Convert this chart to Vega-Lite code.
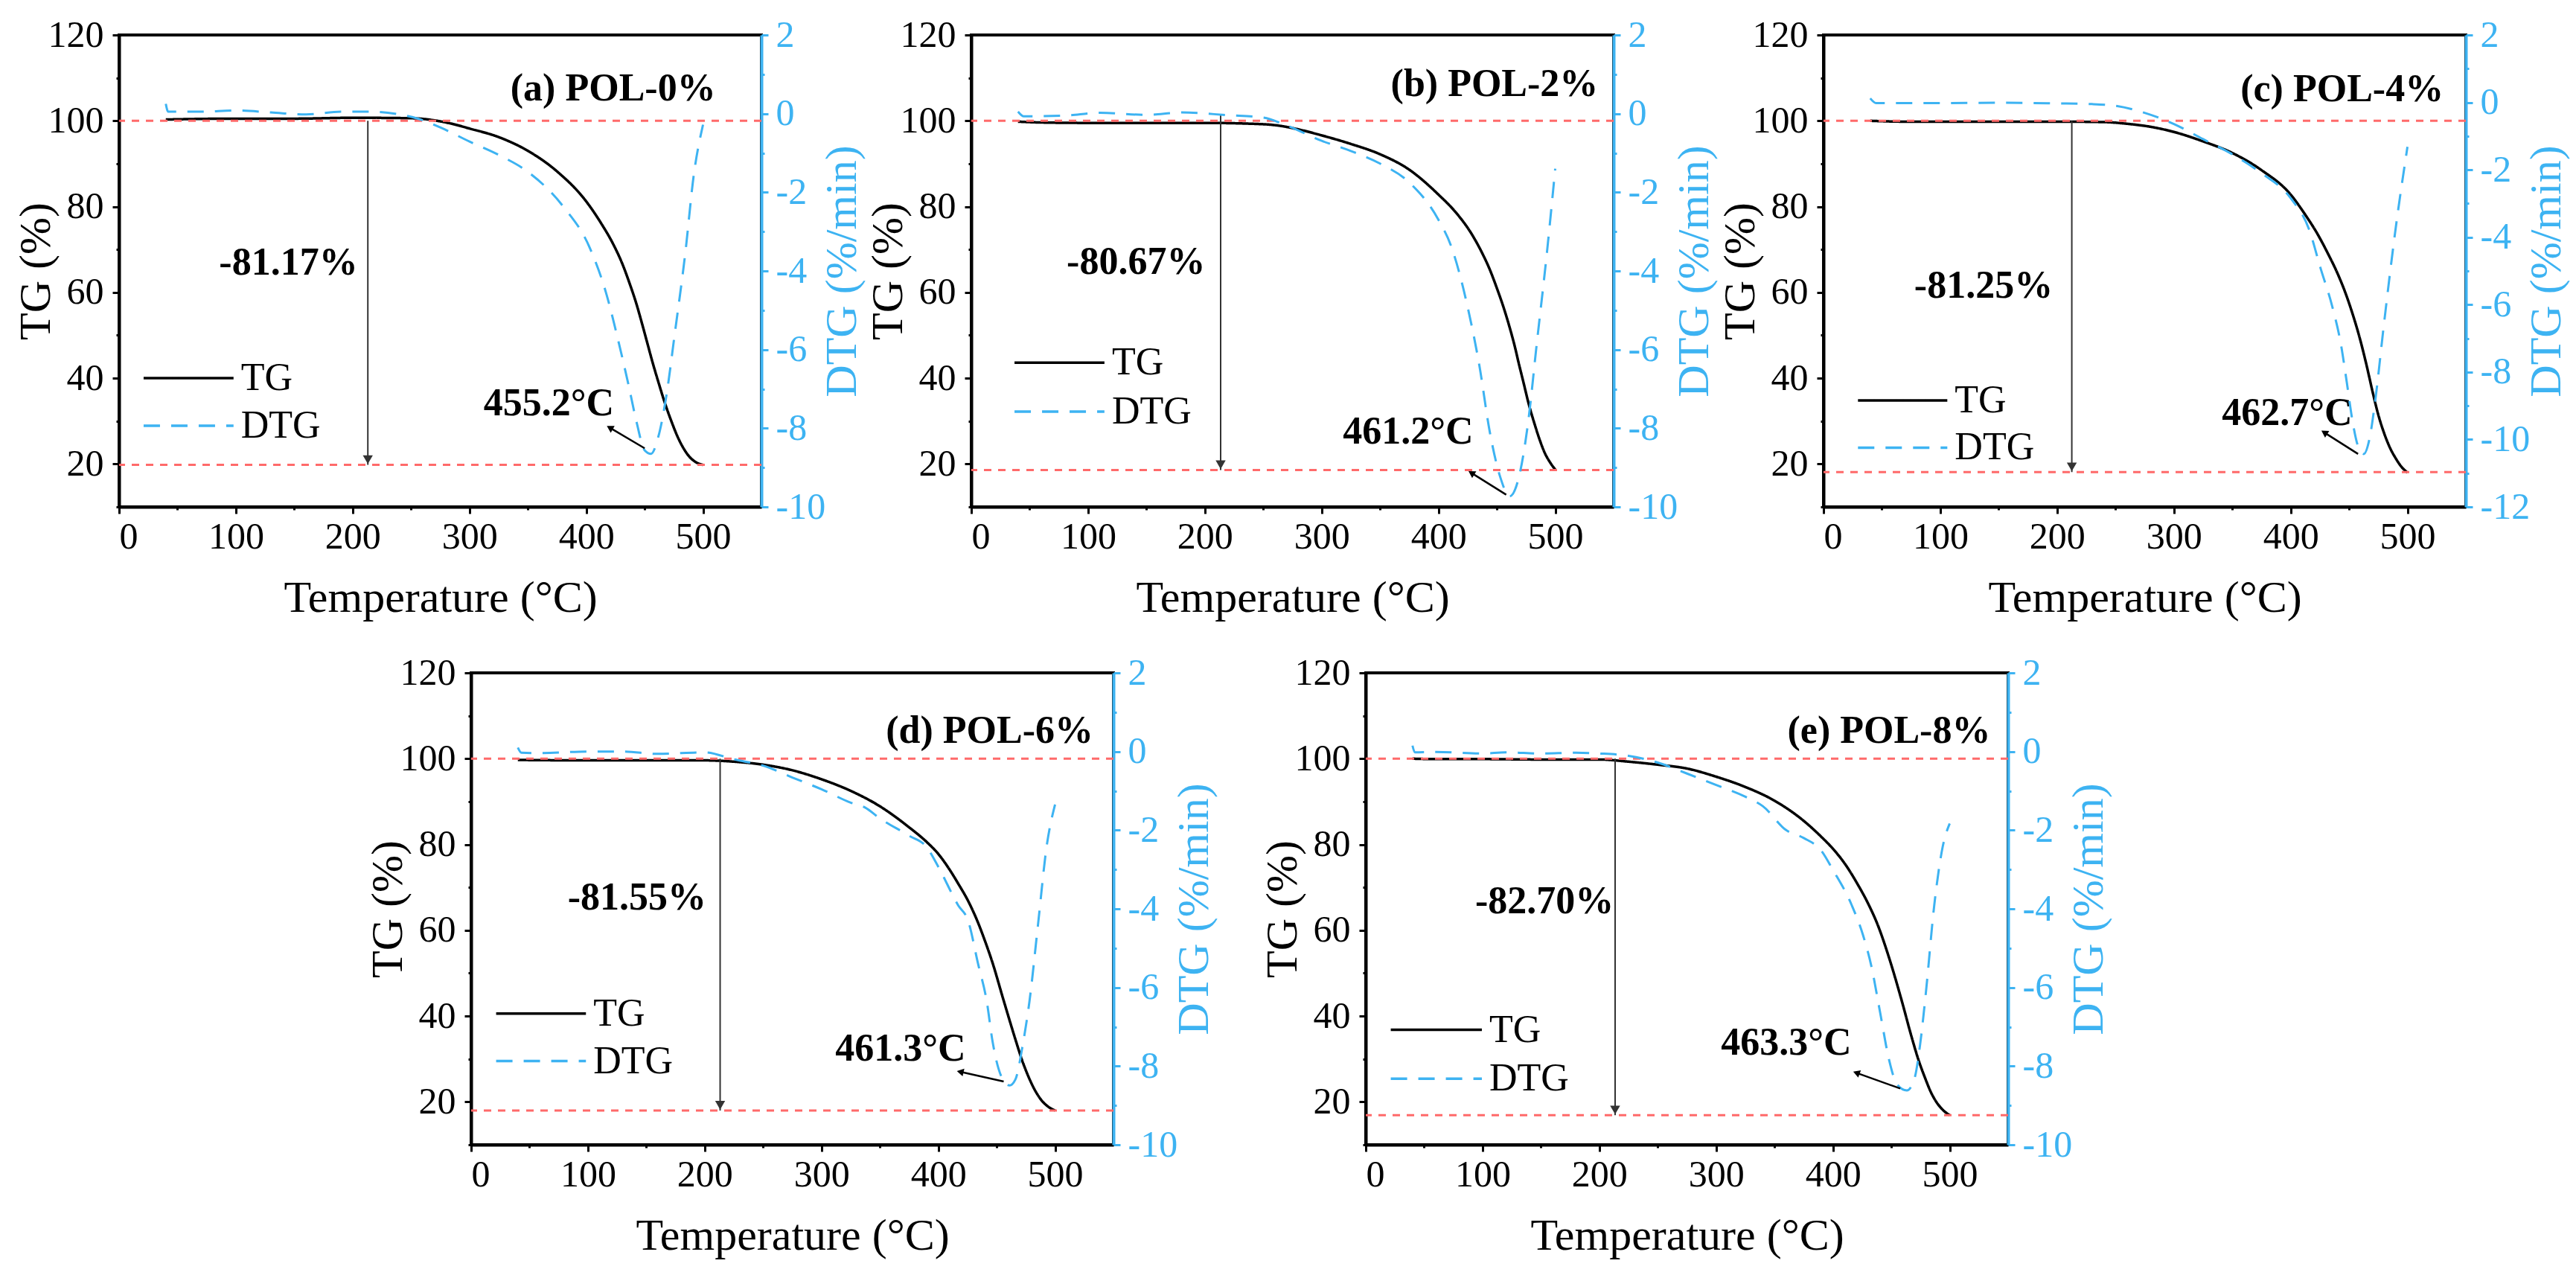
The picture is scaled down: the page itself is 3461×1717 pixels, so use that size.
{
  "$schema": "https://vega.github.io/schema/vega-lite/v6.json",
  "padding": {"left": 16, "top": 20, "right": 5, "bottom": 5},
  "config": {
    "font": "Liberation Serif, Times New Roman, DejaVu Serif, serif",
    "view": {"stroke": "black", "strokeWidth": 4},
    "text": {"font": "Liberation Serif, Times New Roman, DejaVu Serif, serif"},
    "axis": {
      "grid": false, "labelFont": "Liberation Serif, Times New Roman, DejaVu Serif, serif", "labelFontSize": 50, "labelColor": "black",
      "titleFont": "Liberation Serif, Times New Roman, DejaVu Serif, serif", "titleFontSize": 60, "titleFontWeight": "normal", "titleColor": "black",
      "domainColor": "black", "domainWidth": 4, "tickColor": "black", "tickWidth": 3
    },
    "axisBottom": {"labelPadding": 6, "titlePadding": 28},
    "axisLeft": {"labelPadding": 12, "titlePadding": -15},
    "axisRight": {
      "labelPadding": 10, "titlePadding": -6, "titleAngle": 270, "titleBaseline": "top",
      "domainColor": "#3db3f2", "tickColor": "#3db3f2", "labelColor": "#3db3f2", "titleColor": "#3db3f2"
    }
  },
  "datasets": {
    "curves": [
      {"p":"a","s":"TG","t":40,"v":100.3},{"p":"a","s":"TG","t":100,"v":100.5},{"p":"a","s":"TG","t":150,"v":100.5},{"p":"a","s":"TG","t":200,"v":100.7},{"p":"a","s":"TG","t":250,"v":100.6},{"p":"a","s":"TG","t":270,"v":100.1},{"p":"a","s":"TG","t":285,"v":99.3},{"p":"a","s":"TG","t":300,"v":98.2},{"p":"a","s":"TG","t":325,"v":96.2},{"p":"a","s":"TG","t":350,"v":93.0},{"p":"a","s":"TG","t":375,"v":88.2},{"p":"a","s":"TG","t":400,"v":81.2},{"p":"a","s":"TG","t":413,"v":76.0},{"p":"a","s":"TG","t":423,"v":71.3},{"p":"a","s":"TG","t":431,"v":66.6},{"p":"a","s":"TG","t":437,"v":62.2},{"p":"a","s":"TG","t":443,"v":57.3},{"p":"a","s":"TG","t":448,"v":52.5},{"p":"a","s":"TG","t":452,"v":48.5},{"p":"a","s":"TG","t":457,"v":43.5},{"p":"a","s":"TG","t":462,"v":38.9},{"p":"a","s":"TG","t":467,"v":34.5},{"p":"a","s":"TG","t":473,"v":29.9},{"p":"a","s":"TG","t":478,"v":26.5},{"p":"a","s":"TG","t":483,"v":23.8},{"p":"a","s":"TG","t":488,"v":21.8},{"p":"a","s":"TG","t":494,"v":20.4},{"p":"a","s":"TG","t":500,"v":19.8},
      {"p":"a","s":"DTG","t":40,"v":0.25},{"p":"a","s":"DTG","t":42,"v":0.05},{"p":"a","s":"DTG","t":70,"v":0.05},{"p":"a","s":"DTG","t":100,"v":0.08},{"p":"a","s":"DTG","t":130,"v":0.03},{"p":"a","s":"DTG","t":160,"v":-0.02},{"p":"a","s":"DTG","t":190,"v":0.05},{"p":"a","s":"DTG","t":215,"v":0.05},{"p":"a","s":"DTG","t":240,"v":-0.02},{"p":"a","s":"DTG","t":255,"v":-0.12},{"p":"a","s":"DTG","t":275,"v":-0.35},{"p":"a","s":"DTG","t":300,"v":-0.71},{"p":"a","s":"DTG","t":325,"v":-1.05},{"p":"a","s":"DTG","t":350,"v":-1.48},{"p":"a","s":"DTG","t":380,"v":-2.35},{"p":"a","s":"DTG","t":403,"v":-3.41},{"p":"a","s":"DTG","t":417,"v":-4.56},{"p":"a","s":"DTG","t":427,"v":-5.72},{"p":"a","s":"DTG","t":436,"v":-6.87},{"p":"a","s":"DTG","t":443,"v":-7.83},{"p":"a","s":"DTG","t":450,"v":-8.56},{"p":"a","s":"DTG","t":455.5,"v":-8.65},{"p":"a","s":"DTG","t":461.7,"v":-8.22},{"p":"a","s":"DTG","t":468.7,"v":-7.16},{"p":"a","s":"DTG","t":475.7,"v":-5.62},{"p":"a","s":"DTG","t":485,"v":-3.5},{"p":"a","s":"DTG","t":492,"v":-1.58},{"p":"a","s":"DTG","t":500,"v":-0.28},
      {"p":"b","s":"TG","t":40,"v":99.8},{"p":"b","s":"TG","t":60,"v":99.6},{"p":"b","s":"TG","t":100,"v":99.5},{"p":"b","s":"TG","t":150,"v":99.5},{"p":"b","s":"TG","t":200,"v":99.5},{"p":"b","s":"TG","t":250,"v":99.2},{"p":"b","s":"TG","t":265,"v":98.8},{"p":"b","s":"TG","t":280,"v":98.0},{"p":"b","s":"TG","t":300,"v":96.6},{"p":"b","s":"TG","t":325,"v":94.6},{"p":"b","s":"TG","t":350,"v":92.2},{"p":"b","s":"TG","t":375,"v":88.6},{"p":"b","s":"TG","t":400,"v":82.8},{"p":"b","s":"TG","t":415,"v":78.6},{"p":"b","s":"TG","t":428,"v":73.8},{"p":"b","s":"TG","t":437,"v":69.4},{"p":"b","s":"TG","t":444,"v":65.3},{"p":"b","s":"TG","t":450,"v":61.0},{"p":"b","s":"TG","t":456,"v":56.3},{"p":"b","s":"TG","t":461,"v":51.8},{"p":"b","s":"TG","t":465,"v":47.8},{"p":"b","s":"TG","t":469,"v":43.2},{"p":"b","s":"TG","t":473,"v":38.8},{"p":"b","s":"TG","t":477,"v":34.3},{"p":"b","s":"TG","t":482,"v":29.6},{"p":"b","s":"TG","t":487,"v":25.4},{"p":"b","s":"TG","t":491,"v":22.6},{"p":"b","s":"TG","t":496,"v":20.2},{"p":"b","s":"TG","t":500,"v":18.7},
      {"p":"b","s":"DTG","t":40,"v":0.05},{"p":"b","s":"DTG","t":45,"v":-0.07},{"p":"b","s":"DTG","t":80,"v":-0.05},{"p":"b","s":"DTG","t":110,"v":0.02},{"p":"b","s":"DTG","t":150,"v":-0.03},{"p":"b","s":"DTG","t":180,"v":0.03},{"p":"b","s":"DTG","t":220,"v":-0.04},{"p":"b","s":"DTG","t":250,"v":-0.1},{"p":"b","s":"DTG","t":270,"v":-0.3},{"p":"b","s":"DTG","t":300,"v":-0.69},{"p":"b","s":"DTG","t":325,"v":-0.95},{"p":"b","s":"DTG","t":350,"v":-1.27},{"p":"b","s":"DTG","t":375,"v":-1.75},{"p":"b","s":"DTG","t":400,"v":-2.7},{"p":"b","s":"DTG","t":411,"v":-3.38},{"p":"b","s":"DTG","t":425,"v":-4.92},{"p":"b","s":"DTG","t":435,"v":-6.4},{"p":"b","s":"DTG","t":444,"v":-8.1},{"p":"b","s":"DTG","t":453,"v":-9.25},{"p":"b","s":"DTG","t":461,"v":-9.73},{"p":"b","s":"DTG","t":470,"v":-9.1},{"p":"b","s":"DTG","t":477,"v":-7.8},{"p":"b","s":"DTG","t":484,"v":-5.9},{"p":"b","s":"DTG","t":493,"v":-3.5},{"p":"b","s":"DTG","t":500,"v":-1.4},
      {"p":"c","s":"TG","t":40,"v":100.0},{"p":"c","s":"TG","t":70,"v":99.8},{"p":"c","s":"TG","t":100,"v":99.8},{"p":"c","s":"TG","t":150,"v":99.8},{"p":"c","s":"TG","t":200,"v":99.8},{"p":"c","s":"TG","t":240,"v":99.7},{"p":"c","s":"TG","t":260,"v":99.3},{"p":"c","s":"TG","t":280,"v":98.6},{"p":"c","s":"TG","t":300,"v":97.4},{"p":"c","s":"TG","t":325,"v":95.2},{"p":"c","s":"TG","t":350,"v":92.5},{"p":"c","s":"TG","t":375,"v":88.5},{"p":"c","s":"TG","t":400,"v":82.8},{"p":"c","s":"TG","t":412,"v":78.3},{"p":"c","s":"TG","t":423,"v":73.6},{"p":"c","s":"TG","t":432,"v":69.0},{"p":"c","s":"TG","t":440,"v":64.5},{"p":"c","s":"TG","t":447,"v":59.8},{"p":"c","s":"TG","t":453,"v":55.0},{"p":"c","s":"TG","t":459,"v":49.5},{"p":"c","s":"TG","t":465,"v":43.0},{"p":"c","s":"TG","t":470,"v":37.0},{"p":"c","s":"TG","t":475,"v":31.5},{"p":"c","s":"TG","t":480,"v":27.2},{"p":"c","s":"TG","t":485,"v":23.8},{"p":"c","s":"TG","t":490,"v":21.3},{"p":"c","s":"TG","t":495,"v":19.3},{"p":"c","s":"TG","t":500,"v":18.0},
      {"p":"c","s":"DTG","t":40,"v":0.12},{"p":"c","s":"DTG","t":45,"v":-0.02},{"p":"c","s":"DTG","t":100,"v":-0.02},{"p":"c","s":"DTG","t":150,"v":-0.01},{"p":"c","s":"DTG","t":200,"v":-0.03},{"p":"c","s":"DTG","t":230,"v":-0.05},{"p":"c","s":"DTG","t":250,"v":-0.1},{"p":"c","s":"DTG","t":275,"v":-0.31},{"p":"c","s":"DTG","t":300,"v":-0.64},{"p":"c","s":"DTG","t":325,"v":-1.09},{"p":"c","s":"DTG","t":350,"v":-1.54},{"p":"c","s":"DTG","t":375,"v":-2.1},{"p":"c","s":"DTG","t":400,"v":-2.84},{"p":"c","s":"DTG","t":416,"v":-3.79},{"p":"c","s":"DTG","t":425.6,"v":-4.92},{"p":"c","s":"DTG","t":435.5,"v":-6.04},{"p":"c","s":"DTG","t":443,"v":-7.17},{"p":"c","s":"DTG","t":448,"v":-8.29},{"p":"c","s":"DTG","t":452.8,"v":-9.42},{"p":"c","s":"DTG","t":457.7,"v":-10.2},{"p":"c","s":"DTG","t":462.6,"v":-10.43},{"p":"c","s":"DTG","t":467.5,"v":-9.98},{"p":"c","s":"DTG","t":472.4,"v":-8.85},{"p":"c","s":"DTG","t":479.8,"v":-6.6},{"p":"c","s":"DTG","t":489.7,"v":-3.79},{"p":"c","s":"DTG","t":500,"v":-1.32},
      {"p":"d","s":"TG","t":40,"v":99.7},{"p":"d","s":"TG","t":100,"v":99.6},{"p":"d","s":"TG","t":150,"v":99.6},{"p":"d","s":"TG","t":200,"v":99.6},{"p":"d","s":"TG","t":225,"v":99.3},{"p":"d","s":"TG","t":250,"v":98.6},{"p":"d","s":"TG","t":275,"v":97.3},{"p":"d","s":"TG","t":300,"v":95.2},{"p":"d","s":"TG","t":325,"v":92.5},{"p":"d","s":"TG","t":350,"v":88.9},{"p":"d","s":"TG","t":375,"v":84.0},{"p":"d","s":"TG","t":390,"v":80.6},{"p":"d","s":"TG","t":400,"v":77.8},{"p":"d","s":"TG","t":410,"v":74.0},{"p":"d","s":"TG","t":417,"v":70.9},{"p":"d","s":"TG","t":426,"v":66.6},{"p":"d","s":"TG","t":434,"v":61.8},{"p":"d","s":"TG","t":440,"v":57.5},{"p":"d","s":"TG","t":446,"v":52.8},{"p":"d","s":"TG","t":456,"v":43.6},{"p":"d","s":"TG","t":466,"v":34.6},{"p":"d","s":"TG","t":472,"v":29.5},{"p":"d","s":"TG","t":478,"v":25.4},{"p":"d","s":"TG","t":483,"v":22.6},{"p":"d","s":"TG","t":488,"v":20.5},{"p":"d","s":"TG","t":495,"v":18.7},{"p":"d","s":"TG","t":500,"v":18.0},
      {"p":"d","s":"DTG","t":40,"v":0.1},{"p":"d","s":"DTG","t":43,"v":-0.03},{"p":"d","s":"DTG","t":60,"v":-0.04},{"p":"d","s":"DTG","t":100,"v":0.0},{"p":"d","s":"DTG","t":130,"v":0.0},{"p":"d","s":"DTG","t":160,"v":-0.06},{"p":"d","s":"DTG","t":200,"v":-0.02},{"p":"d","s":"DTG","t":225,"v":-0.2},{"p":"d","s":"DTG","t":250,"v":-0.36},{"p":"d","s":"DTG","t":275,"v":-0.66},{"p":"d","s":"DTG","t":300,"v":-0.96},{"p":"d","s":"DTG","t":325,"v":-1.3},{"p":"d","s":"DTG","t":337,"v":-1.42},{"p":"d","s":"DTG","t":350,"v":-1.7},{"p":"d","s":"DTG","t":375,"v":-2.14},{"p":"d","s":"DTG","t":390,"v":-2.43},{"p":"d","s":"DTG","t":400,"v":-2.93},{"p":"d","s":"DTG","t":417,"v":-3.91},{"p":"d","s":"DTG","t":425.5,"v":-4.3},{"p":"d","s":"DTG","t":434,"v":-5.39},{"p":"d","s":"DTG","t":441.6,"v":-6.37},{"p":"d","s":"DTG","t":446.4,"v":-7.36},{"p":"d","s":"DTG","t":453.8,"v":-8.25},{"p":"d","s":"DTG","t":461,"v":-8.49},{"p":"d","s":"DTG","t":466,"v":-8.34},{"p":"d","s":"DTG","t":472.3,"v":-7.46},{"p":"d","s":"DTG","t":478,"v":-6.37},{"p":"d","s":"DTG","t":485.4,"v":-4.4},{"p":"d","s":"DTG","t":492.7,"v":-2.43},{"p":"d","s":"DTG","t":500,"v":-1.35},
      {"p":"e","s":"TG","t":40,"v":100.0},{"p":"e","s":"TG","t":60,"v":99.9},{"p":"e","s":"TG","t":100,"v":99.9},{"p":"e","s":"TG","t":150,"v":99.8},{"p":"e","s":"TG","t":200,"v":99.8},{"p":"e","s":"TG","t":225,"v":99.3},{"p":"e","s":"TG","t":250,"v":98.6},{"p":"e","s":"TG","t":275,"v":97.7},{"p":"e","s":"TG","t":300,"v":95.8},{"p":"e","s":"TG","t":325,"v":93.4},{"p":"e","s":"TG","t":350,"v":90.2},{"p":"e","s":"TG","t":375,"v":85.5},{"p":"e","s":"TG","t":390,"v":81.8},{"p":"e","s":"TG","t":400,"v":79.0},{"p":"e","s":"TG","t":411,"v":75.2},{"p":"e","s":"TG","t":421,"v":70.8},{"p":"e","s":"TG","t":430,"v":66.3},{"p":"e","s":"TG","t":438,"v":61.5},{"p":"e","s":"TG","t":449,"v":52.8},{"p":"e","s":"TG","t":459,"v":43.5},{"p":"e","s":"TG","t":467,"v":35.5},{"p":"e","s":"TG","t":473,"v":30.0},{"p":"e","s":"TG","t":479,"v":25.5},{"p":"e","s":"TG","t":484,"v":22.2},{"p":"e","s":"TG","t":489,"v":19.8},{"p":"e","s":"TG","t":495,"v":17.9},{"p":"e","s":"TG","t":500,"v":16.9},
      {"p":"e","s":"DTG","t":40,"v":0.15},{"p":"e","s":"DTG","t":42,"v":-0.02},{"p":"e","s":"DTG","t":60,"v":-0.01},{"p":"e","s":"DTG","t":100,"v":-0.05},{"p":"e","s":"DTG","t":120,"v":-0.02},{"p":"e","s":"DTG","t":150,"v":-0.05},{"p":"e","s":"DTG","t":180,"v":-0.03},{"p":"e","s":"DTG","t":200,"v":-0.05},{"p":"e","s":"DTG","t":225,"v":-0.11},{"p":"e","s":"DTG","t":250,"v":-0.28},{"p":"e","s":"DTG","t":275,"v":-0.56},{"p":"e","s":"DTG","t":300,"v":-0.85},{"p":"e","s":"DTG","t":325,"v":-1.15},{"p":"e","s":"DTG","t":340,"v":-1.39},{"p":"e","s":"DTG","t":360,"v":-2.0},{"p":"e","s":"DTG","t":375,"v":-2.2},{"p":"e","s":"DTG","t":390,"v":-2.52},{"p":"e","s":"DTG","t":400,"v":-3.01},{"p":"e","s":"DTG","t":416,"v":-3.9},{"p":"e","s":"DTG","t":426,"v":-4.69},{"p":"e","s":"DTG","t":433,"v":-5.47},{"p":"e","s":"DTG","t":440.5,"v":-6.65},{"p":"e","s":"DTG","t":448,"v":-7.83},{"p":"e","s":"DTG","t":455,"v":-8.47},{"p":"e","s":"DTG","t":463.3,"v":-8.62},{"p":"e","s":"DTG","t":469.8,"v":-8.32},{"p":"e","s":"DTG","t":474.7,"v":-7.44},{"p":"e","s":"DTG","t":479.5,"v":-6.16},{"p":"e","s":"DTG","t":486.8,"v":-3.9},{"p":"e","s":"DTG","t":494,"v":-2.42},{"p":"e","s":"DTG","t":500,"v":-1.83}
    ],
    "levels": [
      {"p":"a","v":100},{"p":"a","v":19.8},{"p":"b","v":100},{"p":"b","v":18.6},{"p":"c","v":100},{"p":"c","v":18.1},{"p":"d","v":100},{"p":"d","v":18.0},{"p":"e","v":100},{"p":"e","v":16.9}
    ],
    "drops": [
      {"p":"a","t":213,"top":100,"v":19.8},{"p":"b","t":213.5,"top":101.5,"v":18.6},{"p":"c","t":212.6,"top":100,"v":18.1},{"p":"d","t":213.2,"top":100,"v":18.0},{"p":"e","t":213.5,"top":100,"v":16.9}
    ],
    "labels": [
      {"p":"a","txt":"(a) POL-0%","t":423,"v":107.5},{"p":"a","txt":"-81.17%","t":145,"v":66.9},{"p":"a","txt":"455.2°C","t":368,"v":34.1},
      {"p":"b","txt":"(b) POL-2%","t":448,"v":108.5},{"p":"b","txt":"-80.67%","t":141,"v":67},{"p":"b","txt":"461.2°C","t":374,"v":27.6},
      {"p":"c","txt":"(c) POL-4%","t":444,"v":107.3},{"p":"c","txt":"-81.25%","t":137,"v":61.6},{"p":"c","txt":"462.7°C","t":397,"v":31.8},
      {"p":"d","txt":"(d) POL-6%","t":444,"v":106.5},{"p":"d","txt":"-81.55%","t":142,"v":67.6},{"p":"d","txt":"461.3°C","t":367.6,"v":32.4},
      {"p":"e","txt":"(e) POL-8%","t":448,"v":106.5},{"p":"e","txt":"-82.70%","t":153,"v":66.7},{"p":"e","txt":"463.3°C","t":360,"v":33.8}
    ],
    "pointers": [
      {"p":"a","t":450,"v":-8.51,"t2":421,"v2":-8.0},{"p":"b","t":458,"v":-9.69,"t2":429,"v2":-9.15},{"p":"c","t":457.7,"v":-10.43,"t2":429.6,"v2":-9.81},{"p":"d","t":456,"v":-8.39,"t2":419.7,"v2":-8.15},{"p":"e","t":457.6,"v":-8.57,"t2":421,"v2":-8.18}
    ],
    "keys": [
      {"p":"a","s":"TG","t":21,"t2":98,"v":40},{"p":"a","s":"DTG","t":21,"t2":98,"v":28.9},
      {"p":"b","s":"TG","t":37,"t2":114,"v":43.6},{"p":"b","s":"DTG","t":37,"t2":114,"v":32.2},
      {"p":"c","s":"TG","t":29.5,"t2":106,"v":34.8},{"p":"c","s":"DTG","t":29.5,"t2":106,"v":23.8},
      {"p":"d","s":"TG","t":21.4,"t2":98.3,"v":40.6},{"p":"d","s":"DTG","t":21.4,"t2":98.3,"v":29.5},
      {"p":"e","s":"TG","t":21.4,"t2":99.4,"v":36.8},{"p":"e","s":"DTG","t":21.4,"t2":99.4,"v":25.4}
    ]
  },
  "spacing": 42,
  "vconcat": [
    {
      "bounds": "flush",
      "spacing": 282,
      "hconcat": [
        {
          "width": 863, "height": 634,
          "resolve": {"scale": {"y": "independent"}},
          "layer": [
            {"layer": [
              {"data": {"name": "curves"}, "transform": [{"filter": "datum.p == 'a' && datum.s == 'TG'"}],
               "mark": {"type": "line", "strokeWidth": 3.5, "interpolate": "monotone"},
               "encoding": {
                 "x": {"field": "t", "type": "quantitative", "scale": {"domain": [0, 550]}, "axis": {"title": "Temperature (°C)", "values": [0,50,100,150,200,250,300,350,400,450,500], "labelExpr": "datum.value % 100 == 0 ? datum.label : ''", "tickSize": {"condition": {"test": "datum.value % 100 == 0", "value": 9}, "value": 4}}},
                 "y": {"field": "v", "type": "quantitative", "scale": {"domain": [10, 120]}, "axis": {"title": "TG (%)", "values": [10,20,30,40,50,60,70,80,90,100,110,120], "labelExpr": "datum.value % 20 == 0 ? datum.label : ''", "tickSize": {"condition": {"test": "datum.value % 20 == 0", "value": 9}, "value": 4}}},
                 "color": {"field": "s", "type": "nominal", "scale": {"domain": ["TG", "DTG"], "range": ["#000000", "#3db3f2"]}, "legend": null},
                 "strokeDash": {"field": "s", "type": "nominal", "scale": {"domain": ["TG", "DTG"], "range": [[1, 0], [22, 15]]}, "legend": null}}},
              {"data": {"name": "levels"}, "transform": [{"filter": "datum.p == 'a'"}],
               "mark": {"type": "rule", "color": "#ff6a6a", "strokeWidth": 3, "strokeDash": [10, 9]},
               "encoding": {"y": {"field": "v", "type": "quantitative"}}},
              {"data": {"name": "drops"}, "transform": [{"filter": "datum.p == 'a'"}],
               "mark": {"type": "rule", "color": "#333333", "strokeWidth": 2},
               "encoding": {"x": {"field": "t", "type": "quantitative"}, "y": {"field": "top", "type": "quantitative"}, "y2": {"field": "v"}}},
              {"data": {"name": "drops"}, "transform": [{"filter": "datum.p == 'a'"}],
               "mark": {"type": "point", "shape": "triangle-down", "filled": true, "color": "#333333", "opacity": 1, "size": 180, "yOffset": -7},
               "encoding": {"x": {"field": "t", "type": "quantitative"}, "y": {"field": "v", "type": "quantitative"}}},
              {"data": {"name": "keys"}, "transform": [{"filter": "datum.p == 'a'"}],
               "mark": {"type": "rule", "strokeWidth": 3.5},
               "encoding": {"x": {"field": "t", "type": "quantitative"}, "x2": {"field": "t2"}, "y": {"field": "v", "type": "quantitative"},
                 "color": {"field": "s", "type": "nominal", "legend": null}, "strokeDash": {"field": "s", "type": "nominal", "legend": null}}},
              {"data": {"name": "keys"}, "transform": [{"filter": "datum.p == 'a'"}],
               "mark": {"type": "text", "align": "left", "baseline": "middle", "dx": 10, "fontSize": 52, "color": "black"},
               "encoding": {"x": {"field": "t2", "type": "quantitative"}, "y": {"field": "v", "type": "quantitative"}, "text": {"field": "s"}}},
              {"data": {"name": "labels"}, "transform": [{"filter": "datum.p == 'a'"}],
               "mark": {"type": "text", "baseline": "middle", "fontSize": 52, "fontWeight": "bold", "color": "black"},
               "encoding": {"x": {"field": "t", "type": "quantitative"}, "y": {"field": "v", "type": "quantitative"}, "text": {"field": "txt"}}}
            ]},
            {"layer": [
              {"data": {"name": "curves"}, "transform": [{"filter": "datum.p == 'a' && datum.s == 'DTG'"}],
               "mark": {"type": "line", "strokeWidth": 3, "interpolate": "monotone"},
               "encoding": {
                 "x": {"field": "t", "type": "quantitative"},
                 "y": {"field": "v", "type": "quantitative", "scale": {"domain": [-10, 2]}, "axis": {"orient": "right", "title": "DTG (%/min)", "values": [-10,-9,-8,-7,-6,-5,-4,-3,-2,-1,0,1,2], "labelExpr": "datum.value % 2 == 0 ? '' + datum.value : ''", "tickSize": {"condition": {"test": "datum.value % 2 == 0", "value": 9}, "value": 4}}},
                 "color": {"field": "s", "type": "nominal", "legend": null},
                 "strokeDash": {"field": "s", "type": "nominal", "legend": null}}},
              {"data": {"name": "pointers"}, "transform": [{"filter": "datum.p == 'a'"}],
               "mark": {"type": "rule", "color": "black", "strokeWidth": 2.5},
               "encoding": {"x": {"field": "t", "type": "quantitative"}, "y": {"field": "v", "type": "quantitative"}, "x2": {"field": "t2"}, "y2": {"field": "v2"}}},
              {"data": {"name": "pointers"}, "transform": [{"filter": "datum.p == 'a'"}],
               "mark": {"type": "point", "shape": "triangle", "filled": true, "color": "black", "opacity": 1, "size": 110, "angle": 300},
               "encoding": {"x": {"field": "t2", "type": "quantitative"}, "y": {"field": "v2", "type": "quantitative"}}}
            ]}
          ]
        },
        {
          "width": 863, "height": 634,
          "resolve": {"scale": {"y": "independent"}},
          "layer": [
            {"layer": [
              {"data": {"name": "curves"}, "transform": [{"filter": "datum.p == 'b' && datum.s == 'TG'"}],
               "mark": {"type": "line", "strokeWidth": 3.5, "interpolate": "monotone"},
               "encoding": {
                 "x": {"field": "t", "type": "quantitative", "scale": {"domain": [0, 550]}, "axis": {"title": "Temperature (°C)", "values": [0,50,100,150,200,250,300,350,400,450,500], "labelExpr": "datum.value % 100 == 0 ? datum.label : ''", "tickSize": {"condition": {"test": "datum.value % 100 == 0", "value": 9}, "value": 4}}},
                 "y": {"field": "v", "type": "quantitative", "scale": {"domain": [10, 120]}, "axis": {"title": "TG (%)", "values": [10,20,30,40,50,60,70,80,90,100,110,120], "labelExpr": "datum.value % 20 == 0 ? datum.label : ''", "tickSize": {"condition": {"test": "datum.value % 20 == 0", "value": 9}, "value": 4}}},
                 "color": {"field": "s", "type": "nominal", "scale": {"domain": ["TG", "DTG"], "range": ["#000000", "#3db3f2"]}, "legend": null},
                 "strokeDash": {"field": "s", "type": "nominal", "scale": {"domain": ["TG", "DTG"], "range": [[1, 0], [22, 15]]}, "legend": null}}},
              {"data": {"name": "levels"}, "transform": [{"filter": "datum.p == 'b'"}],
               "mark": {"type": "rule", "color": "#ff6a6a", "strokeWidth": 3, "strokeDash": [10, 9]},
               "encoding": {"y": {"field": "v", "type": "quantitative"}}},
              {"data": {"name": "drops"}, "transform": [{"filter": "datum.p == 'b'"}],
               "mark": {"type": "rule", "color": "#333333", "strokeWidth": 2},
               "encoding": {"x": {"field": "t", "type": "quantitative"}, "y": {"field": "top", "type": "quantitative"}, "y2": {"field": "v"}}},
              {"data": {"name": "drops"}, "transform": [{"filter": "datum.p == 'b'"}],
               "mark": {"type": "point", "shape": "triangle-down", "filled": true, "color": "#333333", "opacity": 1, "size": 180, "yOffset": -7},
               "encoding": {"x": {"field": "t", "type": "quantitative"}, "y": {"field": "v", "type": "quantitative"}}},
              {"data": {"name": "keys"}, "transform": [{"filter": "datum.p == 'b'"}],
               "mark": {"type": "rule", "strokeWidth": 3.5},
               "encoding": {"x": {"field": "t", "type": "quantitative"}, "x2": {"field": "t2"}, "y": {"field": "v", "type": "quantitative"},
                 "color": {"field": "s", "type": "nominal", "legend": null}, "strokeDash": {"field": "s", "type": "nominal", "legend": null}}},
              {"data": {"name": "keys"}, "transform": [{"filter": "datum.p == 'b'"}],
               "mark": {"type": "text", "align": "left", "baseline": "middle", "dx": 10, "fontSize": 52, "color": "black"},
               "encoding": {"x": {"field": "t2", "type": "quantitative"}, "y": {"field": "v", "type": "quantitative"}, "text": {"field": "s"}}},
              {"data": {"name": "labels"}, "transform": [{"filter": "datum.p == 'b'"}],
               "mark": {"type": "text", "baseline": "middle", "fontSize": 52, "fontWeight": "bold", "color": "black"},
               "encoding": {"x": {"field": "t", "type": "quantitative"}, "y": {"field": "v", "type": "quantitative"}, "text": {"field": "txt"}}}
            ]},
            {"layer": [
              {"data": {"name": "curves"}, "transform": [{"filter": "datum.p == 'b' && datum.s == 'DTG'"}],
               "mark": {"type": "line", "strokeWidth": 3, "interpolate": "monotone"},
               "encoding": {
                 "x": {"field": "t", "type": "quantitative"},
                 "y": {"field": "v", "type": "quantitative", "scale": {"domain": [-10, 2]}, "axis": {"orient": "right", "title": "DTG (%/min)", "values": [-10,-9,-8,-7,-6,-5,-4,-3,-2,-1,0,1,2], "labelExpr": "datum.value % 2 == 0 ? '' + datum.value : ''", "tickSize": {"condition": {"test": "datum.value % 2 == 0", "value": 9}, "value": 4}}},
                 "color": {"field": "s", "type": "nominal", "legend": null},
                 "strokeDash": {"field": "s", "type": "nominal", "legend": null}}},
              {"data": {"name": "pointers"}, "transform": [{"filter": "datum.p == 'b'"}],
               "mark": {"type": "rule", "color": "black", "strokeWidth": 2.5},
               "encoding": {"x": {"field": "t", "type": "quantitative"}, "y": {"field": "v", "type": "quantitative"}, "x2": {"field": "t2"}, "y2": {"field": "v2"}}},
              {"data": {"name": "pointers"}, "transform": [{"filter": "datum.p == 'b'"}],
               "mark": {"type": "point", "shape": "triangle", "filled": true, "color": "black", "opacity": 1, "size": 110, "angle": 302},
               "encoding": {"x": {"field": "t2", "type": "quantitative"}, "y": {"field": "v2", "type": "quantitative"}}}
            ]}
          ]
        },
        {
          "width": 863, "height": 634,
          "resolve": {"scale": {"y": "independent"}},
          "layer": [
            {"layer": [
              {"data": {"name": "curves"}, "transform": [{"filter": "datum.p == 'c' && datum.s == 'TG'"}],
               "mark": {"type": "line", "strokeWidth": 3.5, "interpolate": "monotone"},
               "encoding": {
                 "x": {"field": "t", "type": "quantitative", "scale": {"domain": [0, 550]}, "axis": {"title": "Temperature (°C)", "values": [0,50,100,150,200,250,300,350,400,450,500], "labelExpr": "datum.value % 100 == 0 ? datum.label : ''", "tickSize": {"condition": {"test": "datum.value % 100 == 0", "value": 9}, "value": 4}}},
                 "y": {"field": "v", "type": "quantitative", "scale": {"domain": [10, 120]}, "axis": {"title": "TG (%)", "values": [10,20,30,40,50,60,70,80,90,100,110,120], "labelExpr": "datum.value % 20 == 0 ? datum.label : ''", "tickSize": {"condition": {"test": "datum.value % 20 == 0", "value": 9}, "value": 4}}},
                 "color": {"field": "s", "type": "nominal", "scale": {"domain": ["TG", "DTG"], "range": ["#000000", "#3db3f2"]}, "legend": null},
                 "strokeDash": {"field": "s", "type": "nominal", "scale": {"domain": ["TG", "DTG"], "range": [[1, 0], [22, 15]]}, "legend": null}}},
              {"data": {"name": "levels"}, "transform": [{"filter": "datum.p == 'c'"}],
               "mark": {"type": "rule", "color": "#ff6a6a", "strokeWidth": 3, "strokeDash": [10, 9]},
               "encoding": {"y": {"field": "v", "type": "quantitative"}}},
              {"data": {"name": "drops"}, "transform": [{"filter": "datum.p == 'c'"}],
               "mark": {"type": "rule", "color": "#333333", "strokeWidth": 2},
               "encoding": {"x": {"field": "t", "type": "quantitative"}, "y": {"field": "top", "type": "quantitative"}, "y2": {"field": "v"}}},
              {"data": {"name": "drops"}, "transform": [{"filter": "datum.p == 'c'"}],
               "mark": {"type": "point", "shape": "triangle-down", "filled": true, "color": "#333333", "opacity": 1, "size": 180, "yOffset": -7},
               "encoding": {"x": {"field": "t", "type": "quantitative"}, "y": {"field": "v", "type": "quantitative"}}},
              {"data": {"name": "keys"}, "transform": [{"filter": "datum.p == 'c'"}],
               "mark": {"type": "rule", "strokeWidth": 3.5},
               "encoding": {"x": {"field": "t", "type": "quantitative"}, "x2": {"field": "t2"}, "y": {"field": "v", "type": "quantitative"},
                 "color": {"field": "s", "type": "nominal", "legend": null}, "strokeDash": {"field": "s", "type": "nominal", "legend": null}}},
              {"data": {"name": "keys"}, "transform": [{"filter": "datum.p == 'c'"}],
               "mark": {"type": "text", "align": "left", "baseline": "middle", "dx": 10, "fontSize": 52, "color": "black"},
               "encoding": {"x": {"field": "t2", "type": "quantitative"}, "y": {"field": "v", "type": "quantitative"}, "text": {"field": "s"}}},
              {"data": {"name": "labels"}, "transform": [{"filter": "datum.p == 'c'"}],
               "mark": {"type": "text", "baseline": "middle", "fontSize": 52, "fontWeight": "bold", "color": "black"},
               "encoding": {"x": {"field": "t", "type": "quantitative"}, "y": {"field": "v", "type": "quantitative"}, "text": {"field": "txt"}}}
            ]},
            {"layer": [
              {"data": {"name": "curves"}, "transform": [{"filter": "datum.p == 'c' && datum.s == 'DTG'"}],
               "mark": {"type": "line", "strokeWidth": 3, "interpolate": "monotone"},
               "encoding": {
                 "x": {"field": "t", "type": "quantitative"},
                 "y": {"field": "v", "type": "quantitative", "scale": {"domain": [-12, 2]}, "axis": {"orient": "right", "title": "DTG (%/min)", "values": [-12,-11,-10,-9,-8,-7,-6,-5,-4,-3,-2,-1,0,1,2], "labelExpr": "datum.value % 2 == 0 ? '' + datum.value : ''", "tickSize": {"condition": {"test": "datum.value % 2 == 0", "value": 9}, "value": 4}}},
                 "color": {"field": "s", "type": "nominal", "legend": null},
                 "strokeDash": {"field": "s", "type": "nominal", "legend": null}}},
              {"data": {"name": "pointers"}, "transform": [{"filter": "datum.p == 'c'"}],
               "mark": {"type": "rule", "color": "black", "strokeWidth": 2.5},
               "encoding": {"x": {"field": "t", "type": "quantitative"}, "y": {"field": "v", "type": "quantitative"}, "x2": {"field": "t2"}, "y2": {"field": "v2"}}},
              {"data": {"name": "pointers"}, "transform": [{"filter": "datum.p == 'c'"}],
               "mark": {"type": "point", "shape": "triangle", "filled": true, "color": "black", "opacity": 1, "size": 110, "angle": 302},
               "encoding": {"x": {"field": "t2", "type": "quantitative"}, "y": {"field": "v2", "type": "quantitative"}}}
            ]}
          ]
        }
      ]
    },
    {
      "bounds": "flush",
      "spacing": 339,
      "hconcat": [
        {
          "width": 134, "height": 10,
          "view": {"stroke": null},
          "data": {"values": [{}]},
          "mark": {"type": "point", "opacity": 0},
          "encoding": {}
        },
        {
          "width": 863, "height": 634,
          "resolve": {"scale": {"y": "independent"}},
          "layer": [
            {"layer": [
              {"data": {"name": "curves"}, "transform": [{"filter": "datum.p == 'd' && datum.s == 'TG'"}],
               "mark": {"type": "line", "strokeWidth": 3.5, "interpolate": "monotone"},
               "encoding": {
                 "x": {"field": "t", "type": "quantitative", "scale": {"domain": [0, 550]}, "axis": {"title": "Temperature (°C)", "values": [0,50,100,150,200,250,300,350,400,450,500], "labelExpr": "datum.value % 100 == 0 ? datum.label : ''", "tickSize": {"condition": {"test": "datum.value % 100 == 0", "value": 9}, "value": 4}}},
                 "y": {"field": "v", "type": "quantitative", "scale": {"domain": [10, 120]}, "axis": {"title": "TG (%)", "values": [10,20,30,40,50,60,70,80,90,100,110,120], "labelExpr": "datum.value % 20 == 0 ? datum.label : ''", "tickSize": {"condition": {"test": "datum.value % 20 == 0", "value": 9}, "value": 4}}},
                 "color": {"field": "s", "type": "nominal", "scale": {"domain": ["TG", "DTG"], "range": ["#000000", "#3db3f2"]}, "legend": null},
                 "strokeDash": {"field": "s", "type": "nominal", "scale": {"domain": ["TG", "DTG"], "range": [[1, 0], [22, 15]]}, "legend": null}}},
              {"data": {"name": "levels"}, "transform": [{"filter": "datum.p == 'd'"}],
               "mark": {"type": "rule", "color": "#ff6a6a", "strokeWidth": 3, "strokeDash": [10, 9]},
               "encoding": {"y": {"field": "v", "type": "quantitative"}}},
              {"data": {"name": "drops"}, "transform": [{"filter": "datum.p == 'd'"}],
               "mark": {"type": "rule", "color": "#333333", "strokeWidth": 2},
               "encoding": {"x": {"field": "t", "type": "quantitative"}, "y": {"field": "top", "type": "quantitative"}, "y2": {"field": "v"}}},
              {"data": {"name": "drops"}, "transform": [{"filter": "datum.p == 'd'"}],
               "mark": {"type": "point", "shape": "triangle-down", "filled": true, "color": "#333333", "opacity": 1, "size": 180, "yOffset": -7},
               "encoding": {"x": {"field": "t", "type": "quantitative"}, "y": {"field": "v", "type": "quantitative"}}},
              {"data": {"name": "keys"}, "transform": [{"filter": "datum.p == 'd'"}],
               "mark": {"type": "rule", "strokeWidth": 3.5},
               "encoding": {"x": {"field": "t", "type": "quantitative"}, "x2": {"field": "t2"}, "y": {"field": "v", "type": "quantitative"},
                 "color": {"field": "s", "type": "nominal", "legend": null}, "strokeDash": {"field": "s", "type": "nominal", "legend": null}}},
              {"data": {"name": "keys"}, "transform": [{"filter": "datum.p == 'd'"}],
               "mark": {"type": "text", "align": "left", "baseline": "middle", "dx": 10, "fontSize": 52, "color": "black"},
               "encoding": {"x": {"field": "t2", "type": "quantitative"}, "y": {"field": "v", "type": "quantitative"}, "text": {"field": "s"}}},
              {"data": {"name": "labels"}, "transform": [{"filter": "datum.p == 'd'"}],
               "mark": {"type": "text", "baseline": "middle", "fontSize": 52, "fontWeight": "bold", "color": "black"},
               "encoding": {"x": {"field": "t", "type": "quantitative"}, "y": {"field": "v", "type": "quantitative"}, "text": {"field": "txt"}}}
            ]},
            {"layer": [
              {"data": {"name": "curves"}, "transform": [{"filter": "datum.p == 'd' && datum.s == 'DTG'"}],
               "mark": {"type": "line", "strokeWidth": 3, "interpolate": "monotone"},
               "encoding": {
                 "x": {"field": "t", "type": "quantitative"},
                 "y": {"field": "v", "type": "quantitative", "scale": {"domain": [-10, 2]}, "axis": {"orient": "right", "title": "DTG (%/min)", "values": [-10,-9,-8,-7,-6,-5,-4,-3,-2,-1,0,1,2], "labelExpr": "datum.value % 2 == 0 ? '' + datum.value : ''", "tickSize": {"condition": {"test": "datum.value % 2 == 0", "value": 9}, "value": 4}}},
                 "color": {"field": "s", "type": "nominal", "legend": null},
                 "strokeDash": {"field": "s", "type": "nominal", "legend": null}}},
              {"data": {"name": "pointers"}, "transform": [{"filter": "datum.p == 'd'"}],
               "mark": {"type": "rule", "color": "black", "strokeWidth": 2.5},
               "encoding": {"x": {"field": "t", "type": "quantitative"}, "y": {"field": "v", "type": "quantitative"}, "x2": {"field": "t2"}, "y2": {"field": "v2"}}},
              {"data": {"name": "pointers"}, "transform": [{"filter": "datum.p == 'd'"}],
               "mark": {"type": "point", "shape": "triangle", "filled": true, "color": "black", "opacity": 1, "size": 110, "angle": 283},
               "encoding": {"x": {"field": "t2", "type": "quantitative"}, "y": {"field": "v2", "type": "quantitative"}}}
            ]}
          ]
        },
        {
          "width": 863, "height": 634,
          "resolve": {"scale": {"y": "independent"}},
          "layer": [
            {"layer": [
              {"data": {"name": "curves"}, "transform": [{"filter": "datum.p == 'e' && datum.s == 'TG'"}],
               "mark": {"type": "line", "strokeWidth": 3.5, "interpolate": "monotone"},
               "encoding": {
                 "x": {"field": "t", "type": "quantitative", "scale": {"domain": [0, 550]}, "axis": {"title": "Temperature (°C)", "values": [0,50,100,150,200,250,300,350,400,450,500], "labelExpr": "datum.value % 100 == 0 ? datum.label : ''", "tickSize": {"condition": {"test": "datum.value % 100 == 0", "value": 9}, "value": 4}}},
                 "y": {"field": "v", "type": "quantitative", "scale": {"domain": [10, 120]}, "axis": {"title": "TG (%)", "values": [10,20,30,40,50,60,70,80,90,100,110,120], "labelExpr": "datum.value % 20 == 0 ? datum.label : ''", "tickSize": {"condition": {"test": "datum.value % 20 == 0", "value": 9}, "value": 4}}},
                 "color": {"field": "s", "type": "nominal", "scale": {"domain": ["TG", "DTG"], "range": ["#000000", "#3db3f2"]}, "legend": null},
                 "strokeDash": {"field": "s", "type": "nominal", "scale": {"domain": ["TG", "DTG"], "range": [[1, 0], [22, 15]]}, "legend": null}}},
              {"data": {"name": "levels"}, "transform": [{"filter": "datum.p == 'e'"}],
               "mark": {"type": "rule", "color": "#ff6a6a", "strokeWidth": 3, "strokeDash": [10, 9]},
               "encoding": {"y": {"field": "v", "type": "quantitative"}}},
              {"data": {"name": "drops"}, "transform": [{"filter": "datum.p == 'e'"}],
               "mark": {"type": "rule", "color": "#333333", "strokeWidth": 2},
               "encoding": {"x": {"field": "t", "type": "quantitative"}, "y": {"field": "top", "type": "quantitative"}, "y2": {"field": "v"}}},
              {"data": {"name": "drops"}, "transform": [{"filter": "datum.p == 'e'"}],
               "mark": {"type": "point", "shape": "triangle-down", "filled": true, "color": "#333333", "opacity": 1, "size": 180, "yOffset": -7},
               "encoding": {"x": {"field": "t", "type": "quantitative"}, "y": {"field": "v", "type": "quantitative"}}},
              {"data": {"name": "keys"}, "transform": [{"filter": "datum.p == 'e'"}],
               "mark": {"type": "rule", "strokeWidth": 3.5},
               "encoding": {"x": {"field": "t", "type": "quantitative"}, "x2": {"field": "t2"}, "y": {"field": "v", "type": "quantitative"},
                 "color": {"field": "s", "type": "nominal", "legend": null}, "strokeDash": {"field": "s", "type": "nominal", "legend": null}}},
              {"data": {"name": "keys"}, "transform": [{"filter": "datum.p == 'e'"}],
               "mark": {"type": "text", "align": "left", "baseline": "middle", "dx": 10, "fontSize": 52, "color": "black"},
               "encoding": {"x": {"field": "t2", "type": "quantitative"}, "y": {"field": "v", "type": "quantitative"}, "text": {"field": "s"}}},
              {"data": {"name": "labels"}, "transform": [{"filter": "datum.p == 'e'"}],
               "mark": {"type": "text", "baseline": "middle", "fontSize": 52, "fontWeight": "bold", "color": "black"},
               "encoding": {"x": {"field": "t", "type": "quantitative"}, "y": {"field": "v", "type": "quantitative"}, "text": {"field": "txt"}}}
            ]},
            {"layer": [
              {"data": {"name": "curves"}, "transform": [{"filter": "datum.p == 'e' && datum.s == 'DTG'"}],
               "mark": {"type": "line", "strokeWidth": 3, "interpolate": "monotone"},
               "encoding": {
                 "x": {"field": "t", "type": "quantitative"},
                 "y": {"field": "v", "type": "quantitative", "scale": {"domain": [-10, 2]}, "axis": {"orient": "right", "title": "DTG (%/min)", "values": [-10,-9,-8,-7,-6,-5,-4,-3,-2,-1,0,1,2], "labelExpr": "datum.value % 2 == 0 ? '' + datum.value : ''", "tickSize": {"condition": {"test": "datum.value % 2 == 0", "value": 9}, "value": 4}}},
                 "color": {"field": "s", "type": "nominal", "legend": null},
                 "strokeDash": {"field": "s", "type": "nominal", "legend": null}}},
              {"data": {"name": "pointers"}, "transform": [{"filter": "datum.p == 'e'"}],
               "mark": {"type": "rule", "color": "black", "strokeWidth": 2.5},
               "encoding": {"x": {"field": "t", "type": "quantitative"}, "y": {"field": "v", "type": "quantitative"}, "x2": {"field": "t2"}, "y2": {"field": "v2"}}},
              {"data": {"name": "pointers"}, "transform": [{"filter": "datum.p == 'e'"}],
               "mark": {"type": "point", "shape": "triangle", "filled": true, "color": "black", "opacity": 1, "size": 110, "angle": 290},
               "encoding": {"x": {"field": "t2", "type": "quantitative"}, "y": {"field": "v2", "type": "quantitative"}}}
            ]}
          ]
        }
      ]
    }
  ]
}
